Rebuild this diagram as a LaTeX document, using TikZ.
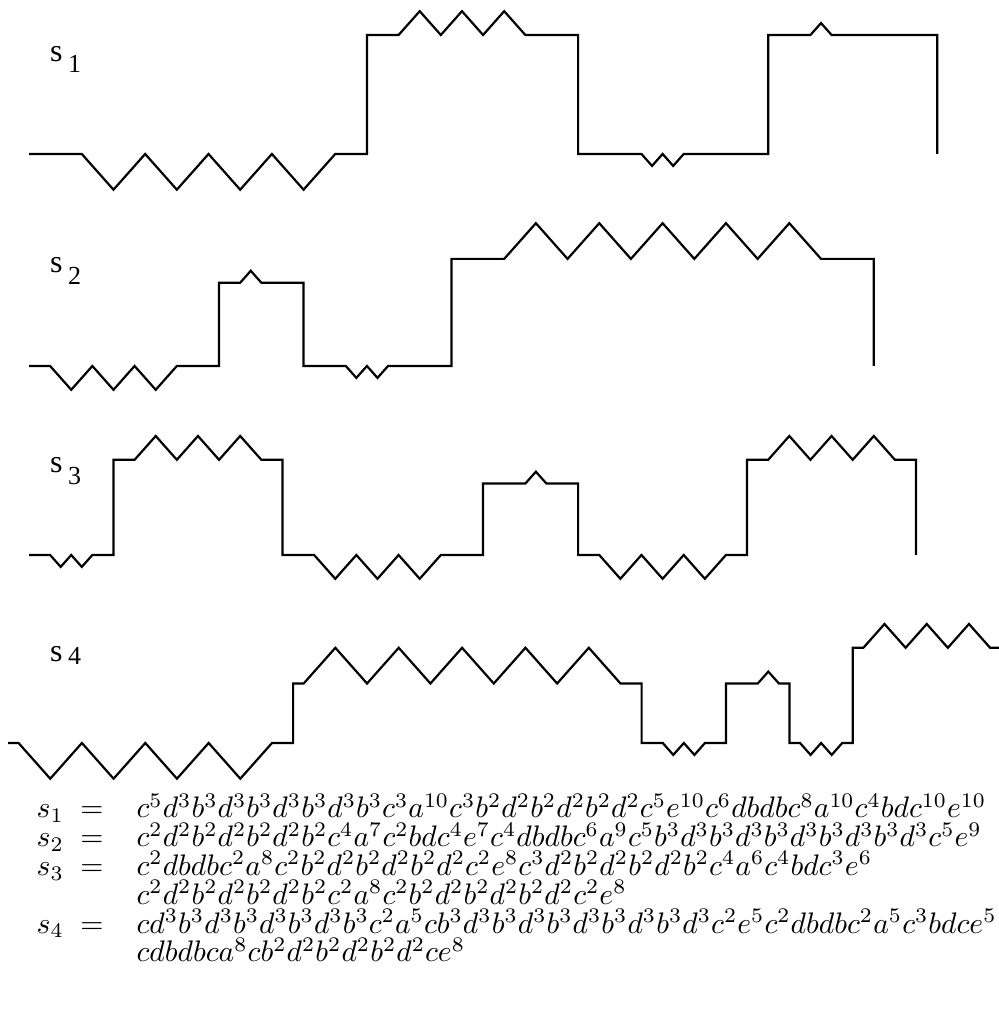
\documentclass[tikz,border=0pt]{standalone}
\usepackage{fontspec}
\newfontfamily\labelfont{Liberation Serif}
\tikzset{
  wave/.style={line width=2.2pt, line join=miter},
  chain/.style={x=10.56pt, y=11.9pt},
  wname/.style={inner sep=0pt, anchor=base west, font=\labelfont\fontsize{32}{32}\selectfont},
  wsub/.style={inner sep=0pt, anchor=base west, font=\labelfont\fontsize{26}{26}\selectfont},
  eqtext/.style={inner sep=0pt, scale=2.97},
}
\begin{document}
\begin{tikzpicture}[x=1pt, y=1pt]
\useasboundingbox (0,0) rectangle (998,1019);

% ---- s1 ----
\begin{scope}[chain, shift={(29pt,865pt)}]
\draw[wave] (0,0) -- ++(5,0)
  -- ++(3,-3) -- ++(3,3) -- ++(3,-3) -- ++(3,3) -- ++(3,-3) -- ++(3,3) -- ++(3,-3) -- ++(3,3)
  -- ++(3,0) -- ++(0,10) -- ++(3,0)
  -- ++(2,2) -- ++(2,-2) -- ++(2,2) -- ++(2,-2) -- ++(2,2) -- ++(2,-2)
  -- ++(5,0) -- ++(0,-10) -- ++(6,0)
  -- ++(1,-1) -- ++(1,1) -- ++(1,-1) -- ++(1,1)
  -- ++(8,0) -- ++(0,10) -- ++(4,0) -- ++(1,1) -- ++(1,-1)
  -- ++(10,0) -- ++(0,-10);
\end{scope}

% ---- s2 ----
\begin{scope}[chain, shift={(29pt,653pt)}]
\draw[wave] (0,0) -- ++(2,0)
  -- ++(2,-2) -- ++(2,2) -- ++(2,-2) -- ++(2,2) -- ++(2,-2) -- ++(2,2)
  -- ++(4,0) -- ++(0,7) -- ++(2,0) -- ++(1,1) -- ++(1,-1)
  -- ++(4,0) -- ++(0,-7) -- ++(4,0)
  -- ++(1,-1) -- ++(1,1) -- ++(1,-1) -- ++(1,1)
  -- ++(6,0) -- ++(0,9) -- ++(5,0)
  -- ++(3,3) -- ++(3,-3) -- ++(3,3) -- ++(3,-3) -- ++(3,3) -- ++(3,-3)
  -- ++(3,3) -- ++(3,-3) -- ++(3,3) -- ++(3,-3)
  -- ++(5,0) -- ++(0,-9);
\end{scope}

% ---- s3 ----
\begin{scope}[chain, shift={(29pt,464pt)}]
\draw[wave] (0,0) -- ++(2,0)
  -- ++(1,-1) -- ++(1,1) -- ++(1,-1) -- ++(1,1)
  -- ++(2,0) -- ++(0,8) -- ++(2,0)
  -- ++(2,2) -- ++(2,-2) -- ++(2,2) -- ++(2,-2) -- ++(2,2) -- ++(2,-2)
  -- ++(2,0) -- ++(0,-8) -- ++(3,0)
  -- ++(2,-2) -- ++(2,2) -- ++(2,-2) -- ++(2,2) -- ++(2,-2) -- ++(2,2)
  -- ++(4,0) -- ++(0,6) -- ++(4,0) -- ++(1,1) -- ++(1,-1)
  -- ++(3,0) -- ++(0,-6) -- ++(2,0)
  -- ++(2,-2) -- ++(2,2) -- ++(2,-2) -- ++(2,2) -- ++(2,-2) -- ++(2,2)
  -- ++(2,0) -- ++(0,8) -- ++(2,0)
  -- ++(2,2) -- ++(2,-2) -- ++(2,2) -- ++(2,-2) -- ++(2,2) -- ++(2,-2)
  -- ++(2,0) -- ++(0,-8);
\end{scope}

% ---- s4 ----
\begin{scope}[chain, shift={(8pt,276pt)}]
\draw[wave] (0,0) -- ++(1,0)
  -- ++(3,-3) -- ++(3,3) -- ++(3,-3) -- ++(3,3) -- ++(3,-3) -- ++(3,3) -- ++(3,-3) -- ++(3,3)
  -- ++(2,0) -- ++(0,5) -- ++(1,0)
  -- ++(3,3) -- ++(3,-3) -- ++(3,3) -- ++(3,-3) -- ++(3,3) -- ++(3,-3)
  -- ++(3,3) -- ++(3,-3) -- ++(3,3) -- ++(3,-3)
  -- ++(2,0) -- ++(0,-5) -- ++(2,0)
  -- ++(1,-1) -- ++(1,1) -- ++(1,-1) -- ++(1,1)
  -- ++(2,0) -- ++(0,5) -- ++(3,0) -- ++(1,1) -- ++(1,-1)
  -- ++(1,0) -- ++(0,-5) -- ++(1,0)
  -- ++(1,-1) -- ++(1,1) -- ++(1,-1) -- ++(1,1)
  -- ++(1,0) -- ++(0,8) -- ++(1,0)
  -- ++(2,2) -- ++(2,-2) -- ++(2,2) -- ++(2,-2) -- ++(2,2) -- ++(2,-2)
  -- ++(1,0);
\end{scope}

% ---- wave names ----
\node[wname] (w1) at (50,957) {s};  \node[wsub] (w1n) at (68,946) {1};
\node[wname] (w2) at (50,746) {s};  \node[wsub] (w2n) at (68,734) {2};
\node[wname] (w3) at (50,546) {s};  \node[wsub] (w3n) at (68,534) {3};
\node[wname] (w4) at (50,357) {s};  \node[wsub] (w4n) at (68,354) {4};

% ---- chain codes ----
\foreach \r/\yy in {1/201, 2/172.2, 3/143.4, 4/85.8}{
  \node[eqtext, anchor=base west] (n\r) at (36,\yy) {$s_{\r}$};
  \node[eqtext, anchor=base] (q\r) at (92,\yy) {$=$};
}
\node[eqtext, anchor=base west] (f1) at (136,201)
  {$c^5d^3b^3d^3b^3d^3b^3d^3b^3c^3a^{10}c^3b^2d^2b^2d^2b^2d^2c^5e^{10}c^6dbdbc^8a^{10}c^4bdc^{10}e^{10}$};
\node[eqtext, anchor=base west] (f2) at (136,172.2)
  {$c^2d^2b^2d^2b^2d^2b^2c^4a^7c^2bdc^4e^7c^4dbdbc^6a^9c^5b^3d^3b^3d^3b^3d^3b^3d^3b^3d^3c^5e^9$};
\node[eqtext, anchor=base west] (f3) at (136,143.4)
  {$c^2dbdbc^2a^8c^2b^2d^2b^2d^2b^2d^2c^2e^8c^3d^2b^2d^2b^2d^2b^2c^4a^6c^4bdc^3e^6$};
\node[eqtext, anchor=base west] (f3b) at (136,114.6)
  {$c^2d^2b^2d^2b^2d^2b^2c^2a^8c^2b^2d^2b^2d^2b^2d^2c^2e^8$};
\node[eqtext, anchor=base west] (f4) at (136,85.8)
  {$cd^3b^3d^3b^3d^3b^3d^3b^3c^2a^5cb^3d^3b^3d^3b^3d^3b^3d^3b^3d^3c^2e^5c^2dbdbc^2a^5c^3bdce^5$};
\node[eqtext, anchor=base west] (f4b) at (136,57)
  {$cdbdbca^8cb^2d^2b^2d^2b^2d^2ce^8$};
\end{tikzpicture}
\end{document}
